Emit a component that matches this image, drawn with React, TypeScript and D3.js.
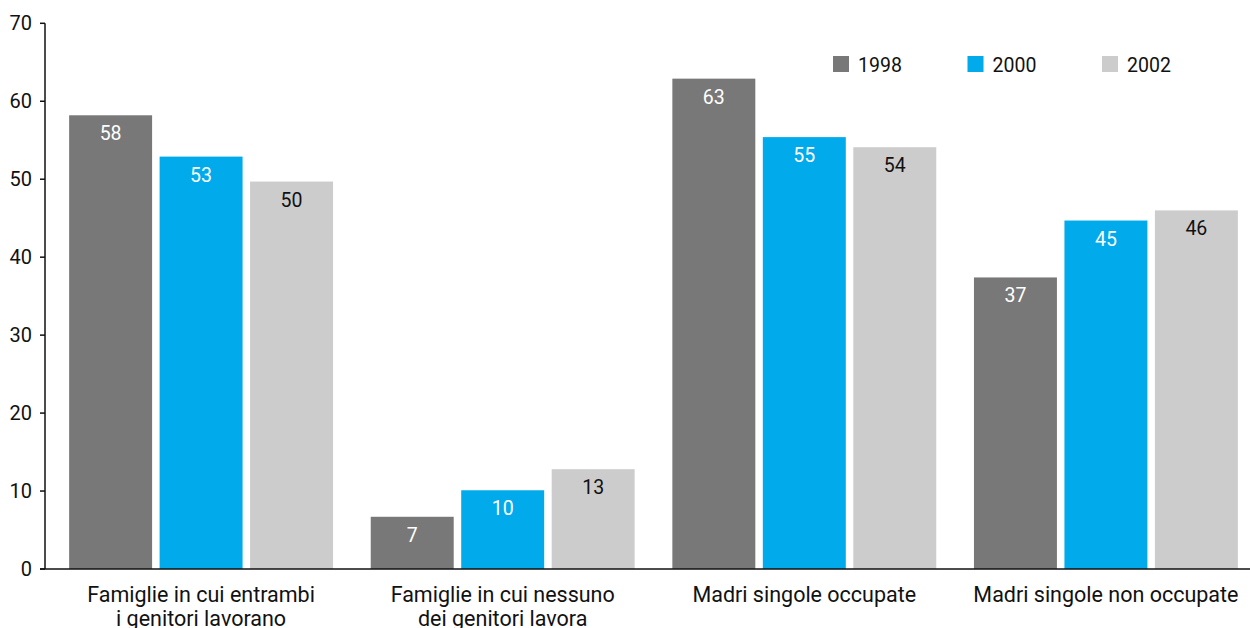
import React from "react";
import * as d3 from "d3";

const categories = [
  ["Famiglie in cui entrambi", "i genitori lavorano"],
  ["Famiglie in cui nessuno", "dei genitori lavora"],
  ["Madri singole occupate"],
  ["Madri singole non occupate"],
];
const years = ["1998", "2000", "2002"];
const values1998 = [58.2, 6.7, 62.9, 37.4];
const values2000 = [52.9, 10.1, 55.4, 44.7];
const values2002 = [49.7, 12.8, 54.1, 46.0];
const yTicks = [0, 10, 20, 30, 40, 50, 60, 70];
const colors = ["#787878", "#00aaeb", "#cccccc"];
const labelColors = ["#ffffff", "#ffffff", "#111111"];

const W = 1250;
const H = 628;
const FONT = "Roboto, 'Liberation Sans', Arial, sans-serif";

export default function App() {
  const series = [values1998, values2000, values2002];
  const groupKeys = categories.map((_, i) => String(i));

  const y = d3.scaleLinear().domain([0, 70]).range([569, 23.3]);
  const x0 = d3
    .scaleBand<string>()
    .domain(groupKeys)
    .range([45, 1262])
    .paddingInner(0.125)
    .paddingOuter(0.08);
  const x1 = d3
    .scaleBand<string>()
    .domain(years)
    .range([0, x0.bandwidth()])
    .paddingInner(0.083)
    .paddingOuter(0);

  return (
    <svg
      width={W}
      height={H}
      style={{ position: "absolute", left: 0, top: 0, background: "#fff" }}
      fontFamily={FONT}
    >
      {/* bars and value labels */}
      {groupKeys.map((g, gi) => (
        <g key={g} transform={`translate(${x0(g)},0)`}>
          {years.map((yr, si) => {
            const v = series[si][gi];
            const bx = x1(yr)!;
            const by = y(v);
            return (
              <g key={yr}>
                <rect
                  x={bx}
                  y={by}
                  width={x1.bandwidth()}
                  height={y(0) - by}
                  fill={colors[si]}
                />
                <text
                  x={bx + x1.bandwidth() / 2}
                  y={by + 25}
                  textAnchor="middle"
                  fontSize={19.5}
                  fill={labelColors[si]}
                >
                  {Math.round(v)}
                </text>
              </g>
            );
          })}
        </g>
      ))}

      {/* y axis */}
      <line x1={45} x2={45} y1={y(70)} y2={y(0)} stroke="#111" strokeWidth={1.5} />
      {yTicks.map((t) => (
        <g key={t}>
          <line x1={40} x2={45} y1={y(t)} y2={y(t)} stroke="#111" strokeWidth={1.5} />
          <text
            x={32}
            y={y(t) + 7}
            textAnchor="end"
            fontSize={20}
            fill="#111"
          >
            {t}
          </text>
        </g>
      ))}
      {/* baseline */}
      <line x1={40} x2={W} y1={y(0)} y2={y(0)} stroke="#111" strokeWidth={1.5} />

      {/* category labels */}
      {groupKeys.map((g, gi) => (
        <text
          key={g}
          x={x0(g)! + x0.bandwidth() / 2}
          y={602}
          textAnchor="middle"
          fontSize={21.5}
          fill="#111"
        >
          {categories[gi].map((line, li) => (
            <tspan key={li} x={x0(g)! + x0.bandwidth() / 2} dy={li === 0 ? 0 : 24}>
              {line}
            </tspan>
          ))}
        </text>
      ))}

      {/* legend */}
      {years.map((yr, i) => (
        <g key={yr} transform={`translate(${833 + i * 134.5},56)`}>
          <rect x={0} y={0} width={16} height={16} fill={colors[i]} />
          <text x={25} y={16} fontSize={19.5} fill="#111">
            {yr}
          </text>
        </g>
      ))}
    </svg>
  );
}
